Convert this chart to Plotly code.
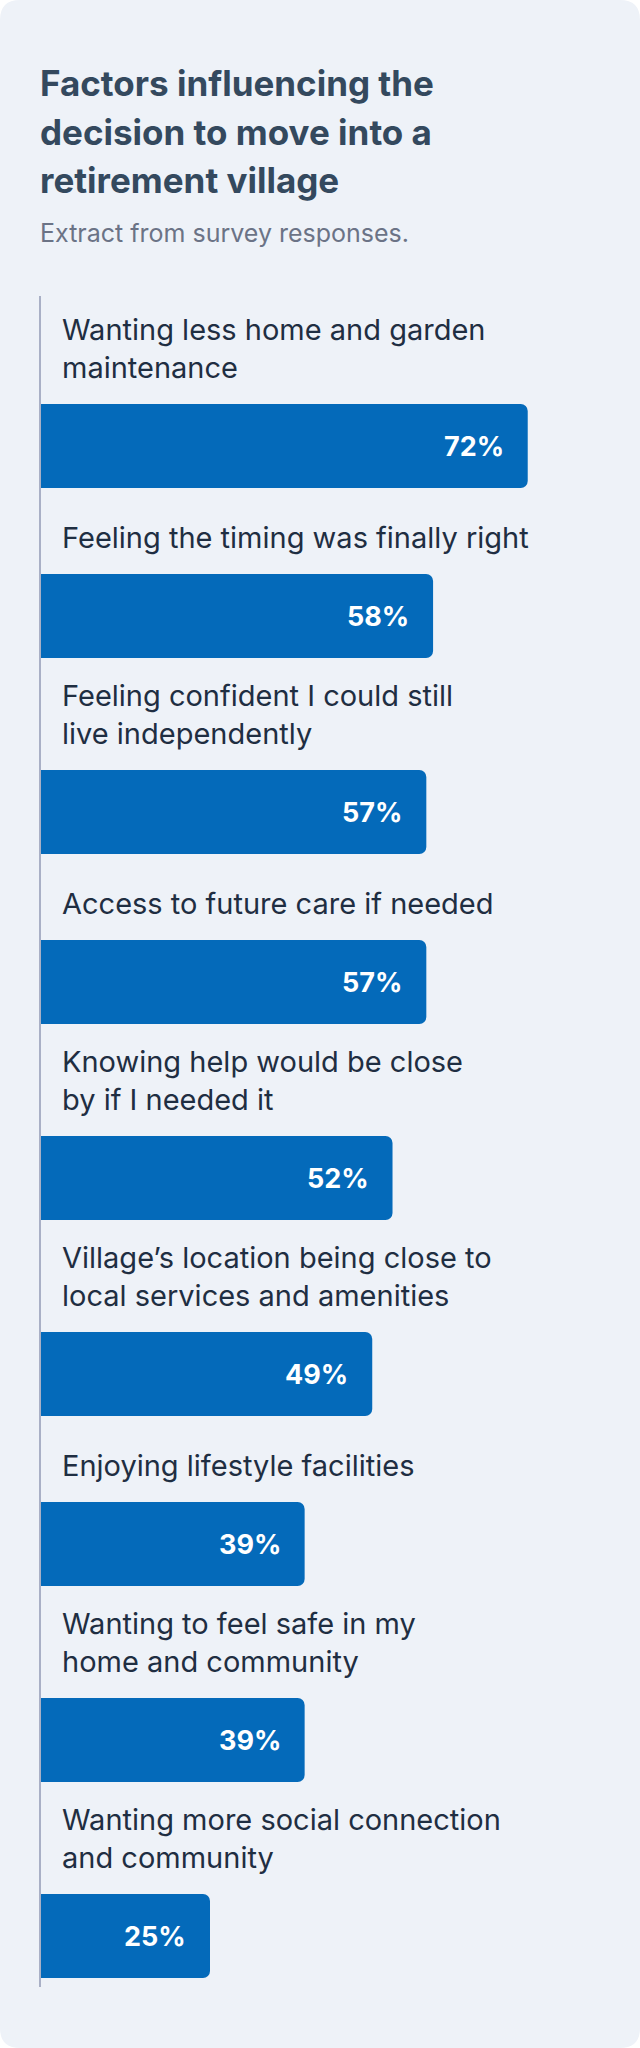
"""
Retirement village survey - horizontal bar chart
"""
import plotly.graph_objects as go

# Data
categories = [
    'Wanting less home and garden<br>maintenance',
    'Feeling the timing was finally right',
    'Feeling confident I could still<br>live independently',
    'Access to future care if needed',
    'Knowing help would be close<br>by if I needed it',
    'Village’s location being close to<br>local services and amenities',
    'Enjoying lifestyle facilities',
    'Wanting to feel safe in my<br>home and community',
    'Wanting more social connection<br>and community',
]
values = [72, 58, 57, 57, 52, 49, 39, 39, 25]

title_lines = [
    'Factors influencing the',
    'decision to move into a',
    'retirement village',
]
subtitle = 'Extract from survey responses.'

# Layout constants (pixels)
W, H = 640, 2048
ML, MR, MT, MB = 41, 0, 296, 61
PLOT_W = W - ML - MR
PLOT_H = H - MT - MB
PX_PER_PCT = 6.76
BAR_H = 84
FIRST_TOP = 108
SLOT = 170
EXTRA_LINE = 26

BG = '#EEF2F8'
BAR = '#046ABA'
FONT = 'Inter, Open Sans, sans-serif'

# Vertical slot positions follow the number of label lines
centers = []
top = FIRST_TOP
for i, cat in enumerate(categories):
    if i > 0:
        top += SLOT + EXTRA_LINE * cat.count('<br>')
    centers.append(top + BAR_H / 2)

fig = go.Figure()

fig.add_trace(go.Bar(
    x=values,
    y=centers,
    orientation='h',
    width=BAR_H,
    marker=dict(color=BAR, line=dict(width=0)),
    hoverinfo='skip',
    showlegend=False,
))

annotations = []

# Category labels above each bar
for cat, c in zip(categories, centers):
    annotations.append(dict(
        x=0, y=c - BAR_H / 2 - 17, xref='x', yref='y',
        text=cat, showarrow=False, xanchor='left', yanchor='bottom',
        xshift=19, align='left',
        font=dict(family=FONT, size=29, color='#1F2E42'),
    ))

# Value labels inside bars
for v, c in zip(values, centers):
    annotations.append(dict(
        x=v, y=c, xref='x', yref='y',
        text=f'<b>{v}%</b>', showarrow=False, xanchor='right', yanchor='middle',
        xshift=-22,
        font=dict(family=FONT, size=27, color='white'),
    ))


def py_to_paper(py):
    return (H - MB - py) / PLOT_H


def px_to_paper(px):
    return (px - ML) / PLOT_W


# Title and subtitle
for i, line in enumerate(title_lines):
    annotations.append(dict(
        x=0, y=py_to_paper(97 + 48 * i + 9.5), xref='paper', yref='paper',
        text=f'<b>{line}</b>', showarrow=False, xanchor='left', yanchor='bottom',
        xshift=-3,
        font=dict(family=FONT, size=35, color='#34495E'),
    ))
annotations.append(dict(
    x=0, y=py_to_paper(243 + 7), xref='paper', yref='paper',
    text=subtitle, showarrow=False, xanchor='left', yanchor='bottom',
    xshift=-3,
    font=dict(family=FONT, size=25, color='#6B7386'),
))

# Rounded card behind everything
r = 20
x0, x1 = px_to_paper(0), px_to_paper(W)
y0, y1 = py_to_paper(H), py_to_paper(0)
rx, ry = r / PLOT_W, r / PLOT_H
card_path = (
    f'M {x0 + rx},{y0} L {x1 - rx},{y0} Q {x1},{y0} {x1},{y0 + ry} '
    f'L {x1},{y1 - ry} Q {x1},{y1} {x1 - rx},{y1} '
    f'L {x0 + rx},{y1} Q {x0},{y1} {x0},{y1 - ry} '
    f'L {x0},{y0 + ry} Q {x0},{y0} {x0 + rx},{y0} Z'
)

fig.update_layout(
    width=W,
    height=H,
    margin=dict(l=ML, r=MR, t=MT, b=MB, pad=0),
    paper_bgcolor='white',
    plot_bgcolor='rgba(0,0,0,0)',
    barcornerradius=7,
    xaxis=dict(
        range=[0, PLOT_W / PX_PER_PCT],
        visible=False,
        fixedrange=True,
    ),
    yaxis=dict(
        range=[PLOT_H, 0],
        showline=True,
        linecolor='#A9B0C6',
        linewidth=2,
        showticklabels=False,
        showgrid=False,
        zeroline=False,
        ticks='',
        fixedrange=True,
    ),
    shapes=[dict(
        type='path', path=card_path, xref='paper', yref='paper',
        fillcolor=BG, line=dict(width=0), layer='below',
    )],
    annotations=annotations,
    showlegend=False,
)

# page body has a default margin; drop it so the card fills the window
fig.write_html(
    'out.html',
    config={'displayModeBar': False},
    post_script="document.body.style.margin = '0';",
)
print('Chart saved to out.html')
